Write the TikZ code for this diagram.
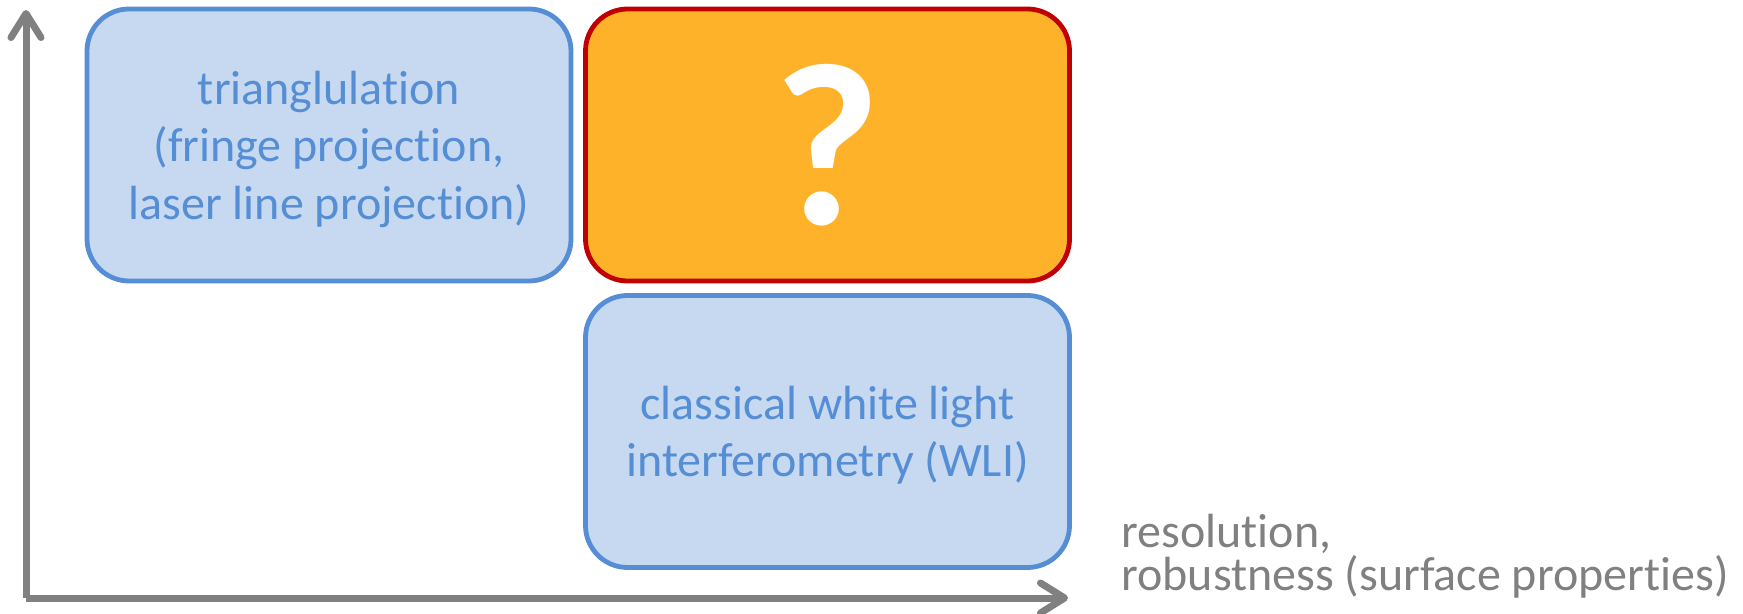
\documentclass[tikz,border=0pt]{standalone}
\usepackage{fontspec}
\setmainfont{Carlito}
\usetikzlibrary{arrows.meta}
\definecolor{axisgray}{RGB}{128,128,128}
\definecolor{boxblue}{RGB}{198,217,240}
\definecolor{edgeblue}{RGB}{85,142,213}
\definecolor{qorange}{RGB}{254,178,41}
\definecolor{qred}{RGB}{192,0,0}
% plain t followed by i, without the font's joined ti glyph
\newcommand{\tsep}{t\kern0pt }
\begin{document}
\begin{tikzpicture}[x=0.5pt,y=-0.5pt,
  cell/.style={rounded corners=21pt, line width=2.4pt, minimum width=242pt,
    minimum height=136pt, inner sep=0pt, align=center},
  method/.style={cell, draw=edgeblue, fill=boxblue, text=edgeblue,
    text depth=0pt, font=\fontsize{24}{28.8}\selectfont},
  unknown/.style={cell, draw=qred, fill=qorange, text=white,
    font=\fontsize{116}{116}\selectfont\bfseries},
  axis/.style={draw=axisgray, line width=3.5pt,
    -{Straight Barb[length=12pt, width=15pt, line cap=round, line join=round]}},
  axislabel/.style={text=axisgray, align=left, inner sep=0pt,
    font={\fontsize{24}{21.5}\selectfont\lineskiplimit=-20pt}}
]
\useasboundingbox (0,0) rectangle (1743,614);

% quadrants
\node[method] (tri) at (329,145)
  {trianglula\tsep ion\\(fringe projec\tsep ion,\\laser line projec\tsep ion)};
\node[unknown] (gap) at (827.5,145) {?};
\node[method] (wli) at (827.5,431.5)
  {classical white light\\interferometry (WLI)};

% axes
\coordinate (origin) at (26,598);
\coordinate (ytip) at (26,10);
\coordinate (xtip) at (1068,598);
\draw[axis] (origin) -- (ytip);
\draw[axis] (origin) -- (xtip);

% the base anchor sits on the last line of the label
\node[axislabel, anchor=base west] (xlabel) at (1121,590)
  {resolu\tsep ion,\\robustness (surface proper\tsep ies)};
\end{tikzpicture}
\end{document}
